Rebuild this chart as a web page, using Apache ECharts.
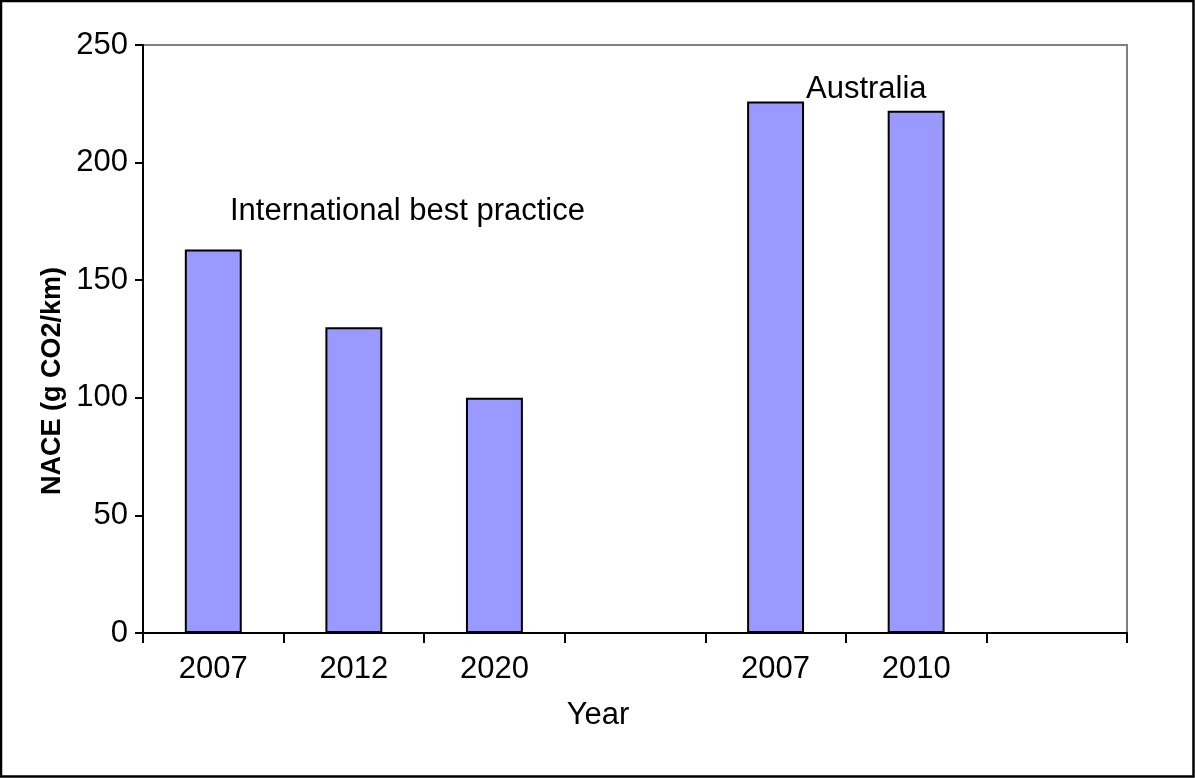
<!DOCTYPE html>
<html>
<head>
<meta charset="utf-8">
<script src="https://cdn.jsdelivr.net/npm/echarts@6/dist/echarts.min.js"></script>
<style>
  html, body { margin: 0; padding: 0; background: #fff; }
  #chart { width: 1195px; height: 778px; }
</style>
</head>
<body>
<div id="chart"></div>
<script>
// categories (blank slots keep the gaps between groups)
const years = ['2007', '2012', '2020', '', '2007', '2010', ''];
// NACE values, g CO2/km
const nace = [163, 130, 100, null, 226, 222, null];
const yTicks = [0, 50, 100, 150, 200, 250];

const chart = echarts.init(document.getElementById('chart'));
const font = 'Liberation Sans, Arial, sans-serif';

const option = {
  animation: false,
  backgroundColor: '#fff',
  grid: {
    left: 143, top: 45, right: 68, bottom: 145,
    show: true,
    borderColor: '#808080',
    borderWidth: 2
  },
  xAxis: {
    type: 'category',
    data: years,
    axisLine: { lineStyle: { color: '#000', width: 2 } },
    axisTick: { show: true, alignWithLabel: false, interval: 0, length: 10, lineStyle: { color: '#000', width: 2 } },
    axisLabel: { color: '#000', fontSize: 31, fontFamily: font, margin: 21, interval: 0 }
  },
  yAxis: {
    type: 'value',
    min: yTicks[0],
    max: yTicks[yTicks.length - 1],
    interval: 50,
    axisLine: { show: true, lineStyle: { color: '#000', width: 2 } },
    axisTick: { show: true, length: 8, lineStyle: { color: '#000', width: 2 } },
    axisLabel: { color: '#000', fontSize: 31, fontFamily: font, margin: 15 },
    splitLine: { show: false }
  },
  series: [{
    type: 'bar',
    data: nace,
    barWidth: '40.5%',
    itemStyle: { color: '#9999FF', borderColor: '#000', borderWidth: 2 }
  }],
  graphic: [
    {
      type: 'rect',
      shape: { x: 1, y: 1, width: 1192.5, height: 775.5 },
      style: { fill: null, stroke: '#000', lineWidth: 2.5 },
      z: 100
    },
    {
      type: 'text',
      x: 53, y: 381, rotation: Math.PI / 2,
      style: { text: 'NACE (g CO2/km)', fill: '#000', font: 'bold 27px ' + font, align: 'center', verticalAlign: 'middle' },
      z: 100
    },
    {
      type: 'text',
      x: 598, y: 715,
      style: { text: 'Year', fill: '#000', font: '31px ' + font, align: 'center', verticalAlign: 'middle' },
      z: 100
    },
    {
      type: 'text',
      left: 230, top: 196,
      style: { text: 'International best practice', fill: '#000', font: '31px ' + font },
      z: 100
    },
    {
      type: 'text',
      left: 806, top: 74,
      style: { text: 'Australia', fill: '#000', font: '31px ' + font },
      z: 100
    }
  ]
};

chart.setOption(option);
</script>
</body>
</html>
